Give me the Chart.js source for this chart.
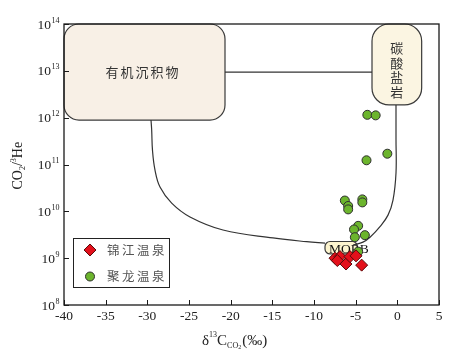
<!DOCTYPE html>
<html>
<head>
<meta charset="utf-8">
<script src="https://cdn.jsdelivr.net/npm/chart.js@4.4.0/dist/chart.umd.min.js"></script>
<style>
    html, body { margin: 0; padding: 0; background: #fff; }
</style>
</head>
<body>
<canvas id="co2-he-chart" width="462" height="359"></canvas>
<script>
const xTicks = [-40, -35, -30, -25, -20, -15, -10, -5, 0, 5];
const yTicks = [1e8, 1e9, 1e10, 1e11, 1e12, 1e13, 1e14];

const seriesNames = ["锦江温泉", "聚龙温泉"];

const jinjiangX = [-7.48, -6.88, -7.2, -6.16, -5.68, -4.96, -4.28];
const jinjiangY = [1.0e9, 1.08e9, 8.9e8, 7.5e8, 1.08e9, 1.12e9, 7.1e8];

const julongX = [-3.6, -2.6, -1.2, -3.7, -6.3, -5.9, -5.9, -4.2, -4.2, -4.7, -5.2, -5.1, -3.9, -4.7];
const julongY = [1.15e12, 1.12e12, 1.7e11, 1.23e11, 1.7e10, 1.3e10, 1.1e10, 1.8e10, 1.55e10, 4.9e9, 4.1e9, 2.8e9, 3.1e9, 1.38e9];

// mixing curves between the end members
const organicCurveX = [-29.56, -29.48, -29.38, -29.08, -28.48, -27.08, -24.88, -20.92, -14.92, -10.88, -8.68];
const organicCurveY = [8.9e11, 5.5e11, 2.0e11, 7.6e10, 3.3e10, 1.5e10, 7.6e9, 4.0e9, 2.7e9, 2.25e9, 2.1e9];
const carbonateCurveX = [-0.16, -0.16, -0.16, -0.52, -1.12, -2.08, -3.28, -4.12, -5.32];
const carbonateCurveY = [1.87e12, 3.5e11, 6.6e10, 1.74e10, 8.3e9, 4.7e9, 2.8e9, 2.2e9, 1.9e9];
const linkLineX = [-20.68, -3.04];
const linkLineY = [9.4e12, 9.4e12];

// end member fields
const endMembers = ["有机沉积物", "碳酸盐岩", "MORB"];
const endMemberX = [[-40, -20.68], [-3.04, 2.92], [-8.68, -4.8]];
const endMemberY = [[8.9e11, 1e14], [1.87e12, 1e14], [1.23e9, 2.27e9]];

const toPoints = (xs, ys) => xs.map((x, i) => ({x: x, y: ys[i]}));

const SERIF = "'Liberation Serif', 'Times New Roman', serif";
const CJK = "'Noto Sans CJK SC', sans-serif";

const curveStyle = {
    showLine: true,
    pointRadius: 0,
    borderColor: "#333",
    borderWidth: 1.2,
    tension: 0.4,
    fill: false
};

function spacedText(ctx, text, x, y, pitch) {
    [...text].forEach((ch, i) => ctx.fillText(ch, x + i * pitch, y));
}

const decor = {
    id: "decor",
    beforeDatasetsDraw(chart) {
        const {ctx, scales: {x, y}} = chart;
        const fills = ["#f8f0e6", "#fbf5e2", "#fdf5cf"];
        const radii = [15, 17, 5];
        ctx.save();
        endMembers.forEach((name, i) => {
            const x0 = x.getPixelForValue(endMemberX[i][0]);
            const x1 = x.getPixelForValue(endMemberX[i][1]);
            const y0 = y.getPixelForValue(endMemberY[i][1]);
            const y1 = y.getPixelForValue(endMemberY[i][0]);
            ctx.beginPath();
            ctx.roundRect(x0, y0, x1 - x0, y1 - y0, radii[i]);
            ctx.fillStyle = fills[i];
            ctx.fill();
            ctx.lineWidth = 1.2;
            ctx.strokeStyle = "#3a3a3a";
            ctx.stroke();

            const cx = (x0 + x1) / 2, cy = (y0 + y1) / 2;
            ctx.fillStyle = "#333";
            ctx.textBaseline = "middle";
            if (i === 0) {
                ctx.font = "13px " + CJK;
                ctx.textAlign = "left";
                spacedText(ctx, name, cx - 39, cy, 15);
            } else if (i === 1) {
                ctx.font = "13px " + CJK;
                ctx.textAlign = "center";
                [...name].forEach((ch, k) => ctx.fillText(ch, cx, cy - 16 + k * 14.5));
            } else {
                ctx.font = "13.5px " + SERIF;
                ctx.textAlign = "left";
                ctx.textBaseline = "alphabetic";
                ctx.fillStyle = "#111";
                ctx.fillText(name, x0 + 4, y1 - 1);
            }
        });
        ctx.restore();
    },
    afterDraw(chart) {
        const {ctx, chartArea: a, scales: {x, y}} = chart;
        ctx.save();

        // frame
        ctx.strokeStyle = "#1a1a1a";
        ctx.lineWidth = 1.3;
        ctx.strokeRect(a.left, a.top, a.right - a.left, a.bottom - a.top);

        // inward tick marks
        ctx.lineWidth = 1;
        x.ticks.forEach(t => {
            const px = Math.round(x.getPixelForValue(t.value)) + 0.5;
            ctx.beginPath();
            ctx.moveTo(px, a.bottom);
            ctx.lineTo(px, a.bottom - 5);
            ctx.stroke();
        });
        y.ticks.forEach(t => {
            const py = Math.round(y.getPixelForValue(t.value)) + 0.5;
            ctx.beginPath();
            ctx.moveTo(a.left, py);
            ctx.lineTo(a.left + 5, py);
            ctx.stroke();
        });

        // tick labels
        ctx.fillStyle = "#222";
        ctx.textBaseline = "alphabetic";
        ctx.font = "13.5px " + SERIF;
        ctx.textAlign = "center";
        x.ticks.forEach(t => {
            ctx.fillText(String(t.value), x.getPixelForValue(t.value), 320);
        });
        y.ticks.forEach(t => {
            const py = y.getPixelForValue(t.value);
            const exp = String(Math.round(Math.log10(t.value)));
            ctx.font = "8px " + SERIF;
            const ew = ctx.measureText(exp).width;
            ctx.font = "13.5px " + SERIF;
            const bw = ctx.measureText("10").width;
            const sx = a.left - 5 - ew - bw;
            ctx.textAlign = "left";
            ctx.fillText("10", sx, py + 4.5);
            ctx.font = "8px " + SERIF;
            ctx.fillText(exp, sx + bw + 0.5, py - 1.5);
        });

        // x title: δ13C CO2 (‰)
        let tx = 202;
        const base = 345;
        const part = (txt, size, dy) => {
            ctx.font = size + "px " + SERIF;
            ctx.fillText(txt, tx, base + dy);
            tx += ctx.measureText(txt).width;
        };
        ctx.textAlign = "left";
        part("δ", 15, 0);
        part("13", 8, -8);
        part("C", 15, 0);
        part("CO", 8, 2.5);
        part("2", 6, 4);
        tx += 1;
        part("(‰)", 15, 0);

        // y title: CO2/3He
        ctx.translate(22, (a.top + a.bottom) / 2);
        ctx.rotate(-Math.PI / 2);
        tx = -25;
        const ybase = 0;
        const ypart = (txt, size, dy) => {
            ctx.font = size + "px " + SERIF;
            ctx.fillText(txt, tx, ybase + dy);
            tx += ctx.measureText(txt).width;
        };
        ypart("CO", 14, 0);
        ypart("2", 8, 3);
        ypart("/", 14, 0);
        ypart("3", 8, -6);
        ypart("He", 14, 0);
        ctx.setTransform(1, 0, 0, 1, 0, 0);

        // legend box
        ctx.strokeStyle = "#222";
        ctx.lineWidth = 1;
        ctx.strokeRect(73.5, 238.5, 96, 49);
        const rows = [250, 276.5];
        chart.data.datasets.slice(0, 2).forEach((ds, i) => {
            ctx.fillStyle = ds.backgroundColor;
            ctx.strokeStyle = ds.borderColor;
            ctx.lineWidth = ds.borderWidth;
            Chart.helpers.drawPoint(ctx, {
                pointStyle: ds.pointStyle,
                radius: ds.pointRadius,
                rotation: 0,
                borderWidth: ds.borderWidth
            }, 90, rows[i]);
            ctx.fillStyle = "#555";
            ctx.font = "12.5px " + CJK;
            ctx.textBaseline = "middle";
            spacedText(ctx, ds.label, 107, rows[i], 15);
        });
        ctx.restore();
    }
};

new Chart(document.getElementById("co2-he-chart"), {
    type: "scatter",
    data: {
        datasets: [{
            label: seriesNames[0],
            data: toPoints(jinjiangX, jinjiangY),
            pointStyle: "rectRot",
            pointRadius: 6,
            backgroundColor: "#e3101b",
            borderColor: "#5a0a0a",
            borderWidth: 1
        }, {
            label: seriesNames[1],
            data: toPoints(julongX, julongY),
            pointStyle: "circle",
            pointRadius: 4.5,
            backgroundColor: "#6cb52d",
            borderColor: "#2e2e2e",
            borderWidth: 1
        },
        Object.assign({label: "organic", data: toPoints(organicCurveX, organicCurveY)}, curveStyle),
        Object.assign({label: "carbonate", data: toPoints(carbonateCurveX, carbonateCurveY)}, curveStyle),
        Object.assign({label: "link", data: toPoints(linkLineX, linkLineY)}, curveStyle, {tension: 0})
        ]
    },
    options: {
        responsive: false,
        animation: false,
        layout: {padding: {top: 24, right: 23, bottom: 0, left: 0}},
        plugins: {
            legend: {display: false},
            tooltip: {enabled: false}
        },
        scales: {
            x: {
                type: "linear",
                min: -40,
                max: 5,
                afterBuildTicks: scale => { scale.ticks = xTicks.map(v => ({value: v})); },
                afterFit: scale => { scale.height = 54; },
                ticks: {display: false},
                grid: {display: false},
                border: {display: false}
            },
            y: {
                type: "logarithmic",
                min: 1e8,
                max: 1e14,
                afterBuildTicks: scale => { scale.ticks = yTicks.map(v => ({value: v})); },
                afterFit: scale => { scale.width = 64; },
                ticks: {display: false},
                grid: {display: false},
                border: {display: false}
            }
        }
    },
    plugins: [decor]
});
</script>
</body>
</html>
